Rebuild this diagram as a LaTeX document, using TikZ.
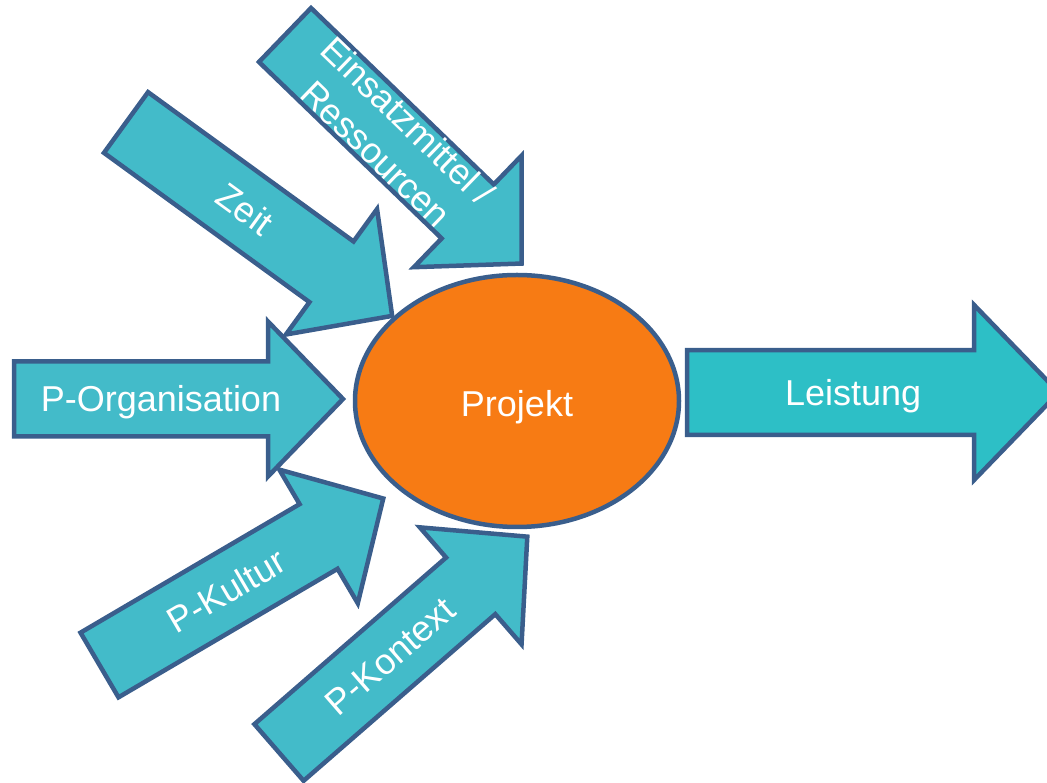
\documentclass[tikz,border=0pt]{standalone}
\usepackage{fontspec}
\setmainfont{Liberation Sans}
\usetikzlibrary{shapes.geometric}
\definecolor{arrowfill}{HTML}{43BBC9}
\definecolor{outfill}{HTML}{2DBFC6}
\definecolor{edgeblue}{HTML}{3A5E8C}
\definecolor{projfill}{HTML}{F77B14}
\tikzset{
  blockarrow/.style={draw=edgeblue, line width=4.5pt, line join=miter},
  lbl/.style={text=white, font=\fontsize{36}{44}\selectfont, inner sep=0pt},
}
% name, x, y, angle, scale, fill, text
\newcommand{\bigarrow}[7]{%
\begin{scope}[shift={(#2,#3)}, rotate=#4]
  \draw[blockarrow, fill=#6, scale=#5] (0,37.5) -- (254,37.5) -- (254,77.5) -- (329,0)
     -- (254,-77.5) -- (254,-37.5) -- (0,-37.5) -- cycle;
  \node[lbl, anchor=base, rotate=#4] (#1) at ({147*#5},-12.9) {#7};
\end{scope}}
\begin{document}
\begin{tikzpicture}[x=1pt,y=1pt]
\useasboundingbox (0,0) rectangle (1047,782);
\node[ellipse, draw=edgeblue, line width=4.5pt, fill=projfill,
      minimum width=324pt, minimum height=252pt, inner sep=0pt] (projekt) at (517,381) {};
\node[lbl, anchor=base] (projektlbl) at (517,365) {Projekt};

\bigarrow{zeit}{126}{659.5}{-36}{1}{arrowfill}{Zeit}
\bigarrow{org}{14}{383}{0}{1}{arrowfill}{P-Organisation}
\bigarrow{kultur}{99.5}{117}{30.4}{1}{arrowfill}{P-Kultur}
\bigarrow{kontext}{279}{29.5}{41}{1}{arrowfill}{P-Kontext}
\bigarrow{leistung}{687}{389.5}{0}{1.13}{outfill}{Leistung}

\begin{scope}[shift={(285,747)}, rotate=-44]
  \draw[blockarrow, fill=arrowfill] (0,37.5) -- (254,37.5) -- (254,77.5) -- (329,0)
     -- (254,-77.5) -- (254,-37.5) -- (0,-37.5) -- cycle;
  \node[lbl, anchor=base, rotate=-44] (einsatzA) at (148,11) {Einsatzmittel /};
  \node[lbl, anchor=base, rotate=-44] (einsatzB) at (148,-35) {Ressourcen};
\end{scope}
\end{tikzpicture}
\end{document}
